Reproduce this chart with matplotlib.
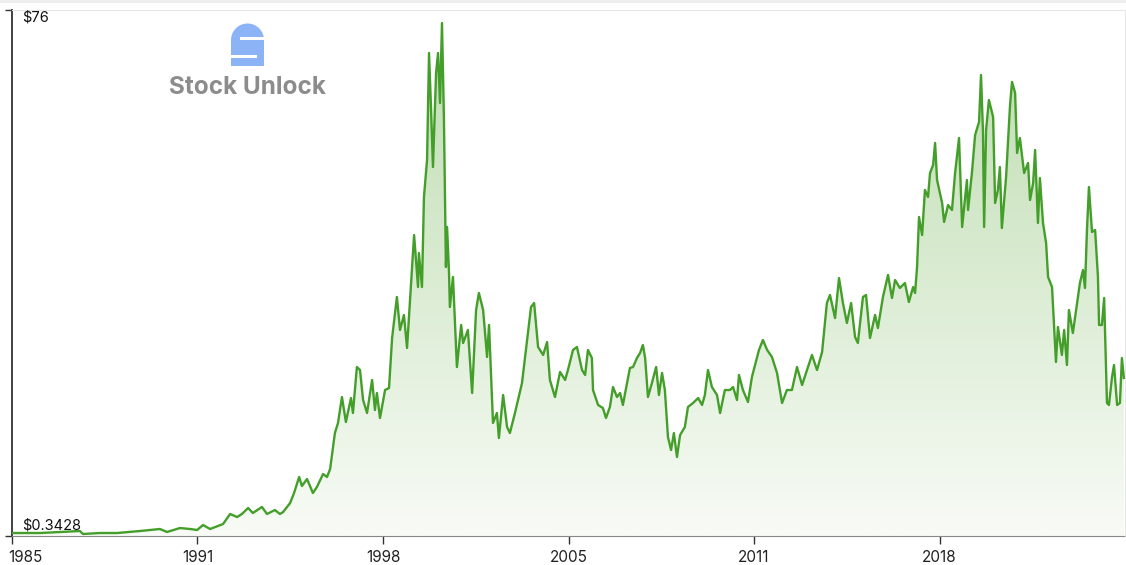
import numpy as np
import matplotlib
matplotlib.use('Agg')
import matplotlib.pyplot as plt
import matplotlib.transforms as mtransforms
from matplotlib.colors import LinearSegmentedColormap
from matplotlib.patches import Rectangle, Wedge

# price history (year, price in $)
years = [1985.00, 1985.99, 1986.70, 1987.41, 1987.52, 1988.12, 1988.73, 1989.54, 1989.90, 1990.25,
         1990.50, 1990.96, 1991.32, 1991.57, 1991.78, 1992.03, 1992.49, 1992.74, 1992.99, 1993.16,
         1993.38, 1993.55, 1993.87, 1994.05, 1994.33, 1994.51, 1994.62, 1994.87, 1995.01, 1995.19,
         1995.29, 1995.47, 1995.68, 1995.82, 1996.04, 1996.18, 1996.29, 1996.46, 1996.57, 1996.71,
         1996.85, 1997.03, 1997.10, 1997.24, 1997.35, 1997.46, 1997.60, 1997.78, 1997.88, 1997.95,
         1998.06, 1998.24, 1998.38, 1998.49, 1998.66, 1998.77, 1998.91, 1999.02, 1999.12, 1999.27,
         1999.41, 1999.44, 1999.55, 1999.62, 1999.73, 1999.80, 1999.87, 1999.94, 2000.05, 2000.12,
         2000.19, 2000.26, 2000.33, 2000.40, 2000.44, 2000.51, 2000.54, 2000.65, 2000.79, 2000.94,
         2001.01, 2001.18, 2001.33, 2001.47, 2001.57, 2001.72, 2001.86, 2001.93, 2002.07, 2002.21,
         2002.28, 2002.43, 2002.57, 2002.67, 2002.85, 2003.10, 2003.28, 2003.42, 2003.53, 2003.67,
         2003.85, 2003.99, 2004.09, 2004.27, 2004.45, 2004.63, 2004.73, 2004.91, 2005.05, 2005.23,
         2005.34, 2005.44, 2005.58, 2005.62, 2005.80, 2005.97, 2006.08, 2006.22, 2006.33, 2006.47,
         2006.58, 2006.68, 2006.83, 2006.93, 2007.04, 2007.18, 2007.29, 2007.39, 2007.47, 2007.57,
         2007.71, 2007.86, 2007.96, 2008.07, 2008.17, 2008.28, 2008.39, 2008.49, 2008.60, 2008.71,
         2008.88, 2008.99, 2009.17, 2009.35, 2009.49, 2009.59, 2009.70, 2009.84, 2010.02, 2010.13,
         2010.30, 2010.48, 2010.59, 2010.73, 2010.80, 2010.94, 2011.12, 2011.26, 2011.37, 2011.51,
         2011.65, 2011.80, 2011.97, 2012.15, 2012.33, 2012.50, 2012.68, 2012.86, 2013.04, 2013.39,
         2013.57, 2013.75, 2013.92, 2014.03, 2014.21, 2014.35, 2014.49, 2014.63, 2014.78, 2014.92,
         2015.02, 2015.20, 2015.31, 2015.45, 2015.63, 2015.73, 2015.91, 2016.09, 2016.23, 2016.34,
         2016.51, 2016.69, 2016.83, 2016.98, 2017.05, 2017.12, 2017.19, 2017.30, 2017.40, 2017.51,
         2017.58, 2017.69, 2017.76, 2017.83, 2018.01, 2018.08, 2018.22, 2018.36, 2018.47, 2018.61,
         2018.72, 2018.89, 2018.93, 2019.07, 2019.18, 2019.32, 2019.39, 2019.46, 2019.50, 2019.57,
         2019.67, 2019.82, 2019.89, 2019.99, 2020.06, 2020.13, 2020.28, 2020.42, 2020.49, 2020.60,
         2020.67, 2020.77, 2020.92, 2021.06, 2021.13, 2021.24, 2021.31, 2021.41, 2021.48, 2021.59,
         2021.70, 2021.77, 2021.91, 2022.05, 2022.12, 2022.26, 2022.34, 2022.44, 2022.51, 2022.65,
         2022.80, 2022.90, 2023.01, 2023.08, 2023.15, 2023.22, 2023.33, 2023.44, 2023.54, 2023.58,
         2023.68, 2023.76, 2023.86, 2023.93, 2024.04, 2024.11, 2024.22, 2024.32, 2024.39, 2024.46]

prices = [0.63, 0.63, 0.78, 0.92, 0.49, 0.63, 0.63, 0.92, 1.07, 1.21,
          0.78, 1.35, 1.21, 1.07, 1.79, 1.21, 1.93, 3.38, 2.94, 3.38,
          4.24, 3.52, 4.39, 3.38, 3.95, 3.38, 3.66, 4.96, 6.41, 8.72,
          7.42, 8.43, 6.41, 7.27, 9.15, 8.72, 9.87, 15.07, 16.52, 20.27,
          16.66, 20.12, 17.96, 24.60, 24.17, 19.84, 17.96, 22.73, 18.39, 20.85,
          17.24, 21.28, 21.57, 28.79, 34.71, 29.95, 32.11, 27.35, 33.84, 43.66,
          36.15, 41.06, 36.15, 49.15, 54.49, 69.94, 62.14, 53.48, 67.05, 69.94,
          62.72, 74.27, 60.27, 39.04, 44.82, 38.18, 33.27, 37.60, 24.60, 30.67,
          28.07, 29.95, 20.85, 32.83, 35.29, 32.83, 26.05, 30.67, 16.52, 17.96,
          14.35, 20.56, 15.94, 15.07, 17.96, 22.29, 28.50, 33.27, 33.84, 27.49,
          26.34, 28.21, 22.73, 20.27, 23.88, 22.73, 24.17, 27.06, 27.49, 24.17,
          23.45, 27.06, 25.90, 21.28, 19.12, 18.68, 17.24, 18.83, 21.71, 20.27,
          20.85, 19.12, 22.29, 24.46, 24.60, 25.90, 26.62, 27.78, 25.90, 20.27,
          22.29, 24.60, 20.56, 23.74, 21.28, 14.49, 12.62, 15.07, 11.61, 14.78,
          15.94, 18.83, 19.40, 20.12, 19.12, 20.56, 24.17, 21.71, 20.56, 17.96,
          21.28, 21.28, 21.71, 19.84, 23.45, 21.28, 19.55, 23.16, 24.89, 27.06,
          28.50, 27.06, 26.05, 23.74, 19.40, 21.28, 21.28, 24.60, 22.00, 26.34,
          24.17, 26.77, 33.84, 35.00, 31.68, 37.45, 33.84, 30.96, 33.84, 28.93,
          28.07, 34.71, 35.00, 28.79, 32.11, 30.23, 34.71, 37.89, 34.57, 37.16,
          36.01, 36.73, 33.99, 36.15, 35.29, 39.04, 46.26, 43.66, 50.16, 49.15,
          52.61, 53.77, 56.95, 51.60, 48.28, 45.54, 47.99, 47.27, 52.61, 57.67,
          44.82, 51.60, 47.27, 52.76, 58.10, 59.98, 66.77, 58.54, 44.82, 58.82,
          63.16, 60.70, 48.28, 50.16, 53.48, 44.67, 52.04, 62.43, 65.76, 64.17,
          55.50, 57.67, 52.61, 54.06, 48.72, 51.17, 55.94, 45.40, 51.89, 45.40,
          42.51, 37.60, 36.15, 25.32, 30.38, 26.34, 29.95, 24.89, 32.83, 29.51,
          33.84, 36.73, 38.61, 36.01, 44.38, 50.59, 44.10, 44.38, 37.60, 30.67,
          30.67, 34.57, 19.40, 19.12, 23.16, 24.89, 19.12, 19.40, 25.90, 23.02]

tick_labels = ['1985', '1991', '1998', '2005', '2011', '2018']
x_start, x_end = 1985.0, 2024.5
y_low, y_high = 0.2, 76.15

plt.rcParams['font.family'] = ['Inter', 'DejaVu Sans']

fig = plt.figure(figsize=(11.26, 5.65), dpi=100)
ax = fig.add_axes([12 / 1126, 29 / 565, 1113 / 1126, 526 / 565])

x = np.array(years)
y = np.array(prices)

# gradient fill under the line
cmap = LinearSegmentedColormap.from_list('g', ['#f8fbf6', '#bcdcae'])
grad = np.linspace(0, 1, 256).reshape(-1, 1)
im = ax.imshow(grad, cmap=cmap, aspect='auto', origin='lower',
               extent=[x_start, x_end, y_low, y_high], zorder=1)
poly = ax.fill_between(x, y, y_low, color='none', lw=0)
clip = poly.get_paths()[0]
im.set_clip_path(clip, transform=ax.transData)

ax.plot(x, y, color='#449e2a', lw=1.7, zorder=3, solid_joinstyle='round')

ax.set_xlim(x_start, x_end)
ax.set_ylim(y_low, y_high)

ticks = np.linspace(x_start, x_end, 7)[:-1]
ax.set_xticks(ticks)
ax.set_xticklabels(tick_labels, fontsize=11, color='#222222')
ax.tick_params(axis='x', length=6, width=1, color='#333333', pad=4)
# first label sits to the right of its tick, as in the original
first = ax.get_xticklabels()[0]
first.set_transform(first.get_transform() +
                    mtransforms.ScaledTranslation(0.13, 0, fig.dpi_scale_trans))
ax.set_yticks([y_low, y_high])
ax.set_yticklabels(['', ''])
ax.tick_params(axis='y', length=5, width=1, color='#333333')

ax.spines['left'].set_color('#333333')
ax.spines['left'].set_linewidth(1.3)
ax.spines['bottom'].set_color('#888888')
ax.spines['bottom'].set_linestyle((0, (1, 1)))
ax.spines['top'].set_color('#e6e6e6')
ax.spines['right'].set_color('#e6e6e6')

ax.text(0.009, 0.985, '$76', transform=ax.transAxes, fontsize=10.5, color='#111111',
        ha='left', va='center')
ax.text(0.009, 0.02, '$0.3428', transform=ax.transAxes, fontsize=10.5, color='#111111',
        ha='left', va='center')

# watermark, drawn in an overlay that uses figure pixels
wm = fig.add_axes([0, 0, 1, 1], zorder=5)
wm.set_xlim(0, 1126)
wm.set_ylim(565, 0)
wm.axis('off')
wm.patch.set_alpha(0)
blue = '#8db3f7'
wm.add_patch(Wedge((247.5, 40), 16.5, 180, 360, fc=blue, ec='none'))
wm.add_patch(Rectangle((231, 39.5), 33, 26.5, fc=blue, ec='none'))
wm.add_patch(Rectangle((240, 37), 25, 3.2, fc='white', ec='none'))
wm.add_patch(Rectangle((230, 54.5), 27, 3.2, fc='white', ec='none'))
wm.text(247.5, 87, 'Stock Unlock', fontsize=17.5, fontweight='bold',
        color='#8c8c8c', ha='center', va='center')
wm.add_patch(Rectangle((0, 0), 1126, 2.5, fc='#eeeeee', ec='none'))

fig.savefig('out.png', dpi=100, facecolor='white')
